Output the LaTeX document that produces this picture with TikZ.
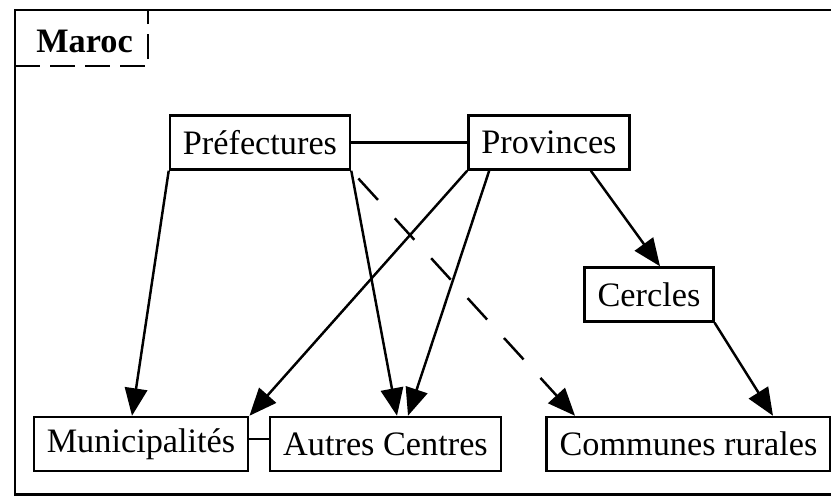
\documentclass[tikz,border=0pt]{standalone}
\usepackage{fontspec}
\setmainfont{Liberation Serif}
\usetikzlibrary{arrows.meta}
\tikzset{
	boite/.style={draw,line width=1.4pt,minimum height=1.08cm,inner xsep=0.26cm,font=\fontsize{19.5}{22}\selectfont},
	fleche/.style={line width=1.4pt,-{Triangle[length=0.55cm,width=0.45cm]}}
}
\begin{document}
\begin{tikzpicture}[line width=1.4pt]
			\useasboundingbox (0,0) rectangle (16.62,9.92);
			% cadre
			\draw (16.62,9.72) -- (0.3,9.72) -- (0.3,0.03) -- (16.62,0.03);
			\draw[dash pattern=on 0.5cm off 0.2cm] (0.3,8.6) -- (2.96,8.6)
			-- (2.96,9.72);
			\node (maroc) at (1.69,9.1) {\fontsize{19.5}{22}\selectfont\bfseries Maroc};
			% noeuds
			\node[boite] (pref) at (5.2,7.07) {Préfectures};
			\node[boite] (prov) at (10.98,7.07) {Provinces};
			\node[boite] (cerc) at (12.98,4.03) {Cercles};
			\node[boite] (muni) at (2.82,1.04) {Municipalités};
			\node[boite] (autr) at (7.71,1.04) {Autres Centres};
			\node[boite] (comm) at (13.77,1.04) {Communes rurales};
			% liens
			\draw (pref.east) -- (prov.west);
			\draw ([yshift=0.1cm]muni.east) -- ([yshift=0.1cm]autr.west);
			\draw[fleche] (pref.south west) -- ([xshift=-0.18cm]muni.north);
			\draw[fleche] (pref.south east) -- ([xshift=0.23cm]autr.north);
			\draw[fleche] (prov.south west) -- (muni.north east);
			\draw[fleche] ([xshift=0.44cm]prov.south west)
			-- ([xshift=0.45cm]autr.north);
			\draw[fleche,dash pattern=on 0.58cm off 0.5cm,dash phase=0.87cm]
			(pref.south east) -- ([xshift=-2.27cm]comm.north);
			\draw[fleche] ([xshift=-0.8cm]prov.south east)
			-- ([xshift=0.22cm]cerc.north);
			\draw[fleche] (cerc.south east) -- ([xshift=1.69cm]comm.north);
		\end{tikzpicture}
\end{document}
